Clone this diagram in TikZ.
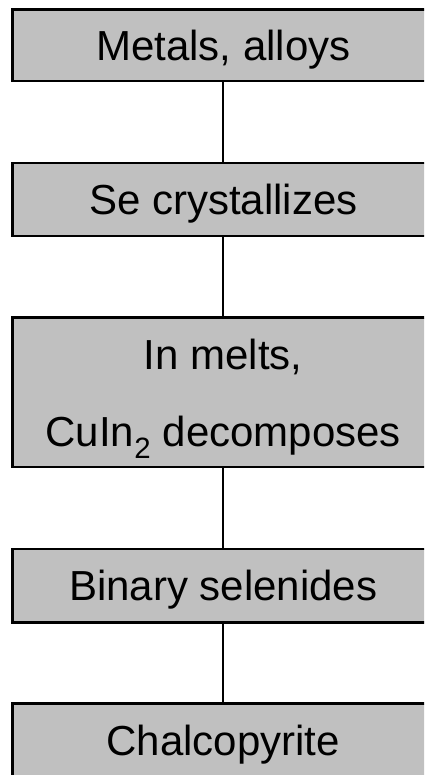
\documentclass[tikz,border=0pt]{standalone}
\usepackage{fontspec}
\setmainfont{Liberation Sans}
\definecolor{boxgray}{HTML}{C0C0C0}
\begin{document}
\begin{tikzpicture}[x=1pt,y=-1pt,
  stagebox/.style={draw=black,line width=2.6pt,fill=boxgray,rectangle,inner sep=0pt,
     minimum width=421.5pt,font=\fontsize{42}{50}\selectfont,text height=30pt,text depth=0pt},
  link/.style={draw=black,line width=1.6pt},
  lbl/.style={font=\fontsize{42}{50}\selectfont,inner sep=0pt,anchor=base}]
\useasboundingbox (0,0) rectangle (424,775);
\clip (0,0) rectangle (424,775);
\node[stagebox,minimum height=71.5pt] (b1) at (223.25,45.25) {Metals, alloys};
\node[stagebox,minimum height=73pt] (b2) at (223.25,199.5) {Se crystallizes};
\node[stagebox,minimum height=149.5pt] (b3) at (223.25,392.25) {};
\node[lbl] (t3a) at (223.25,369) {In melts,};
\node[lbl] (t3b) at (223.25,446.5) {CuIn$_{\mathrm{2}}$ decomposes};
\node[stagebox,minimum height=73.5pt] (b4) at (223.25,585.75) {Binary selenides};
\node[stagebox,minimum height=73pt] (b5) at (223.25,740) {Chalcopyrite};
\draw[link] (b1.south) -- (b2.north);
\draw[link] (b2.south) -- (b3.north);
\draw[link] (b3.south) -- (b4.north);
\draw[link] (b4.south) -- (b5.north);
\end{tikzpicture}
\end{document}
